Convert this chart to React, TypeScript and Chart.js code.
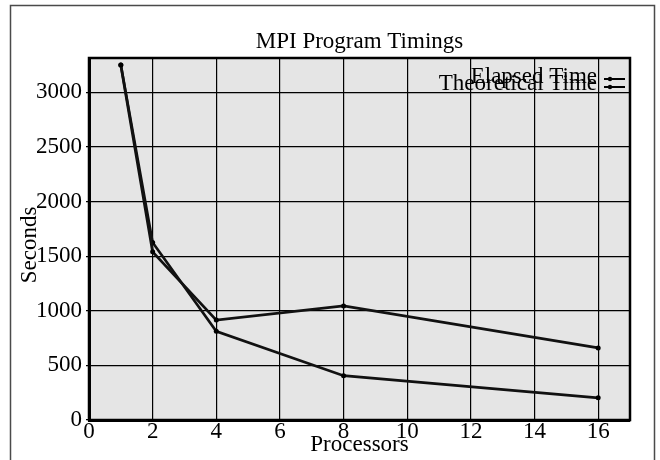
import React, { useEffect, useRef } from "react";
import { Chart, registerables } from "chart.js";

Chart.register(...registerables);

const processors = [1, 2, 4, 8, 16];
const elapsedTime = [3250, 1540, 915, 1045, 660];
const theoreticalTime = [3250, 1625, 812, 406, 203];
const seriesLabels = ["Elapsed Time", "Theoretical Time"];
const chartTitle = "MPI Program Timings";
const xAxisTitle = "Processors";
const yAxisTitle = "Seconds";
const xTickValues = [0, 2, 4, 6, 8, 10, 12, 14, 16];
const yTickValues = [0, 500, 1000, 1500, 2000, 2500, 3000];
const xMin = 0;
const xMax = 17;
const yMin = 0;
const yMax = 3315;

const FONT = "'Liberation Serif', 'Times New Roman', serif";

const framePlugin = {
  id: "framePlugin",
  beforeDraw(chart: any) {
    const { ctx, chartArea: a } = chart;
    ctx.save();
    ctx.fillStyle = "#ffffff";
    ctx.fillRect(0, 0, chart.width, chart.height);
    // outer page frame
    ctx.strokeStyle = "#4a4a4a";
    ctx.lineWidth = 1.5;
    ctx.beginPath();
    ctx.moveTo(10.5, 470);
    ctx.lineTo(10.5, 5.5);
    ctx.lineTo(654.5, 5.5);
    ctx.lineTo(654.5, 470);
    ctx.stroke();
    // plot background
    ctx.fillStyle = "#e5e5e5";
    ctx.fillRect(a.left, a.top, a.right - a.left, a.bottom - a.top);
    ctx.restore();
  },
  afterDraw(chart: any) {
    const { ctx, chartArea: a } = chart;
    ctx.save();
    // plot frame
    ctx.strokeStyle = "#000";
    ctx.lineWidth = 2.5;
    ctx.strokeRect(a.left, a.top, a.right - a.left, a.bottom - a.top);

    ctx.fillStyle = "#000";
    ctx.font = `23px ${FONT}`;
    // title
    ctx.textAlign = "center";
    ctx.textBaseline = "alphabetic";
    ctx.fillText(chartTitle, (a.left + a.right) / 2, 48);
    // x axis title
    ctx.fillText(xAxisTitle, (a.left + a.right) / 2, 451);
    // y axis title
    ctx.save();
    ctx.translate(36, 245);
    ctx.rotate(-Math.PI / 2);
    ctx.fillText(yAxisTitle, 0, 0);
    ctx.restore();

    // legend
    const ds = chart.data.datasets;
    const textBase = [83, 90];
    const lineY = [79, 87];
    ctx.textAlign = "right";
    for (let i = 0; i < ds.length; i++) {
      ctx.fillStyle = "#000";
      ctx.fillText(ds[i].label, 597, textBase[i]);
      ctx.strokeStyle = "#000";
      ctx.lineWidth = 2;
      ctx.beginPath();
      ctx.moveTo(604, lineY[i]);
      ctx.lineTo(625, lineY[i]);
      ctx.stroke();
      ctx.beginPath();
      ctx.arc(610, lineY[i], 2.2, 0, Math.PI * 2);
      ctx.fill();
    }
    ctx.restore();
  },
};

export default function App() {
  const ref = useRef<HTMLCanvasElement | null>(null);
  useEffect(() => {
    if (!ref.current) return;
    const chart = new Chart(ref.current, {
      type: "line",
      data: {
        datasets: [
          {
            label: seriesLabels[0],
            data: processors.map((p, i) => ({ x: p, y: elapsedTime[i] })),
            borderColor: "#111",
            backgroundColor: "#000",
            borderWidth: 2.8,
            pointRadius: 2.5,
            pointBackgroundColor: "#000",
            pointBorderWidth: 0,
            tension: 0,
          },
          {
            label: seriesLabels[1],
            data: processors.map((p, i) => ({ x: p, y: theoreticalTime[i] })),
            borderColor: "#111",
            backgroundColor: "#000",
            borderWidth: 2.6,
            pointRadius: 2.5,
            pointBackgroundColor: "#000",
            pointBorderWidth: 0,
            tension: 0,
          },
        ],
      },
      options: {
        responsive: false,
        animation: false,
        layout: { padding: { left: 0, right: 30, top: 58, bottom: 0 } },
        plugins: {
          legend: { display: false },
          title: { display: false },
          tooltip: { enabled: false },
        },
        scales: {
          x: {
            type: "linear",
            min: xMin,
            max: xMax,
            afterFit: (s: any) => {
              s.height = 40;
            },
            afterBuildTicks: (s: any) => {
              s.ticks = xTickValues.map((v) => ({ value: v }));
            },
            ticks: {
              color: "#000",
              padding: -2,
              maxRotation: 0,
              autoSkip: false,
              callback: (v: any) => String(v),
              font: { family: FONT, size: 23 },
            },
            grid: { color: "#000", lineWidth: 1.2, drawTicks: false },
            border: { display: true, color: "#000", width: 3 },
          },
          y: {
            type: "linear",
            min: yMin,
            max: yMax,
            afterFit: (s: any) => {
              s.width = 89;
            },
            afterBuildTicks: (s: any) => {
              s.ticks = yTickValues.map((v) => ({ value: v }));
            },
            ticks: {
              color: "#000",
              padding: 4,
              autoSkip: false,
              callback: (v: any) => String(v),
              font: { family: FONT, size: 23 },
            },
            grid: { color: "#000", lineWidth: 1.2, drawTicks: true, tickLength: 3 },
            border: { display: true, color: "#000", width: 3 },
          },
        },
      },
      plugins: [framePlugin],
    });
    return () => chart.destroy();
  }, []);
  return (
    <div style={{ position: "fixed", left: 0, top: 0, width: 660, height: 460 }}>
      <canvas ref={ref} width={660} height={460} style={{ display: "block" }} />
    </div>
  );
}
